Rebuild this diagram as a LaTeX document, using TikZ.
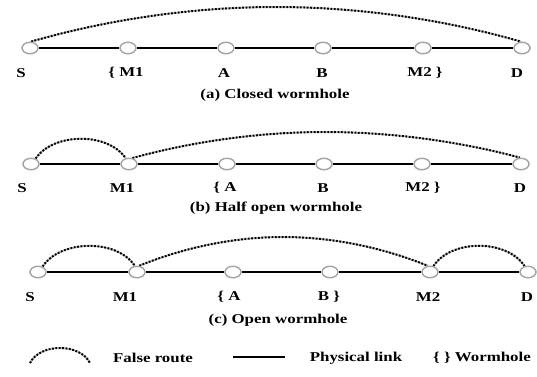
\documentclass[tikz,border=0pt]{standalone}
\usepackage{graphicx}
\usepackage{fontspec}
\setmainfont{Liberation Serif}
\usetikzlibrary{shapes.geometric}
\pgfdeclarelayer{bg}
\pgfsetlayers{bg,main}
\newcommand\wtxt[1]{\scalebox{1.25}[1]{#1}}
\begin{document}
\begin{tikzpicture}[x=1pt,y=-1pt,
  host/.style={ellipse, draw=gray!70, fill=white, line width=1.5pt, minimum width=16pt, minimum height=11.5pt, inner sep=0pt},
  lab/.style={font=\fontsize{13.5}{13.5}\selectfont\bfseries, inner sep=0pt},
  phys/.style={line width=2.6pt, black},
  fake/.style={line width=2pt, black, dash pattern=on 1.8pt off 1.6pt, preaction={draw=gray!60, line width=1.7pt, solid}}
]
\useasboundingbox (0,0) rectangle (537,376);
% ---------- row a ----------
\node[host] (aS) at (30,48) {};
\node[host] (aM1) at (128,48) {};
\node[host] (aA) at (226,48) {};
\node[host] (aB) at (323,48) {};
\node[host] (aM2) at (423,48) {};
\node[host] (aD) at (522,48) {};
\begin{pgfonlayer}{bg}
\draw[phys] (aS) -- (aM1) -- (aA) -- (aB) -- (aM2) -- (aD);
\draw[fake] (aS.80) parabola bend (276,7) (aD.100);
\end{pgfonlayer}
\node[lab] (laS) at (21,73) {\wtxt{S}};
\node[lab] (laM1) at (126,73) {\wtxt{\{ M1}};
\node[lab] (laA) at (224,73) {\wtxt{A}};
\node[lab] (laB) at (322,73) {\wtxt{B}};
\node[lab] (laM2) at (425,73) {\wtxt{M2 \}}};
\node[lab] (laD) at (517,73) {\wtxt{D}};
\node[lab] (capA) at (275,95) {\wtxt{(a) Closed wormhole}};
% ---------- row b ----------
\node[host] (bS) at (31,164) {};
\node[host] (bM1) at (129,164) {};
\node[host] (bA) at (227,164) {};
\node[host] (bB) at (324,164) {};
\node[host] (bM2) at (422,164) {};
\node[host] (bD) at (521,164) {};
\begin{pgfonlayer}{bg}
\draw[phys] (bS) -- (bM1) -- (bA) -- (bB) -- (bM2) -- (bD);
\draw[fake] (bS.50) .. controls +(18,-26) and +(-18,-26) .. (bM1.120);
\draw[fake] (bM1.60) parabola bend (325,132) (bD.100);
\end{pgfonlayer}
\node[lab] (lbS) at (22,188) {\wtxt{S}};
\node[lab] (lbM1) at (122,188) {\wtxt{M1}};
\node[lab] (lbA) at (225,188) {\wtxt{\{ A}};
\node[lab] (lbB) at (323,188) {\wtxt{B}};
\node[lab] (lbM2) at (423,188) {\wtxt{M2 \}}};
\node[lab] (lbD) at (520,188) {\wtxt{D}};
\node[lab] (capB) at (276,208) {\wtxt{(b) Half open wormhole}};
% ---------- row c ----------
\node[host] (cS) at (38,272) {};
\node[host] (cM1) at (137,272) {};
\node[host] (cA) at (233,272) {};
\node[host] (cB) at (330,272) {};
\node[host] (cM2) at (430,272) {};
\node[host] (cD) at (528,272) {};
\begin{pgfonlayer}{bg}
\draw[phys] (cS) -- (cM1) -- (cA) -- (cB) -- (cM2) -- (cD);
\draw[fake] (cS.50) .. controls +(18,-27) and +(-18,-27) .. (cM1.110);
\draw[fake] (cM1.70) parabola bend (283,237) (cM2.110);
\draw[fake] (cM2.60) .. controls +(18,-27) and +(-18,-27) .. (cD.120);
\end{pgfonlayer}
\node[lab] (lcS) at (30,297) {\wtxt{S}};
\node[lab] (lcM1) at (125,297) {\wtxt{M1}};
\node[lab] (lcA) at (229,297) {\wtxt{\{ A}};
\node[lab] (lcB) at (329,297) {\wtxt{B \}}};
\node[lab] (lcM2) at (428,297) {\wtxt{M2}};
\node[lab] (lcD) at (527,297) {\wtxt{D}};
\node[lab] (capC) at (278,320) {\wtxt{(c) Open wormhole}};
% ---------- legend ----------
\coordinate (lgA) at (30,363);
\coordinate (lgB) at (90,363);
\draw[fake] (lgA) .. controls +(10,-20) and +(-10,-20) .. (lgB);
\node[lab] (lgT) at (153,358) {\wtxt{False route}};
\coordinate (lpA) at (233,357);
\coordinate (lpB) at (285,357);
\draw[phys] (lpA) -- (lpB);
\node[lab] (lpT) at (356,358) {\wtxt{Physical link}};
\node[lab] (lwT) at (482,358) {\wtxt{\{ \} Wormhole}};
\end{tikzpicture}
\end{document}
